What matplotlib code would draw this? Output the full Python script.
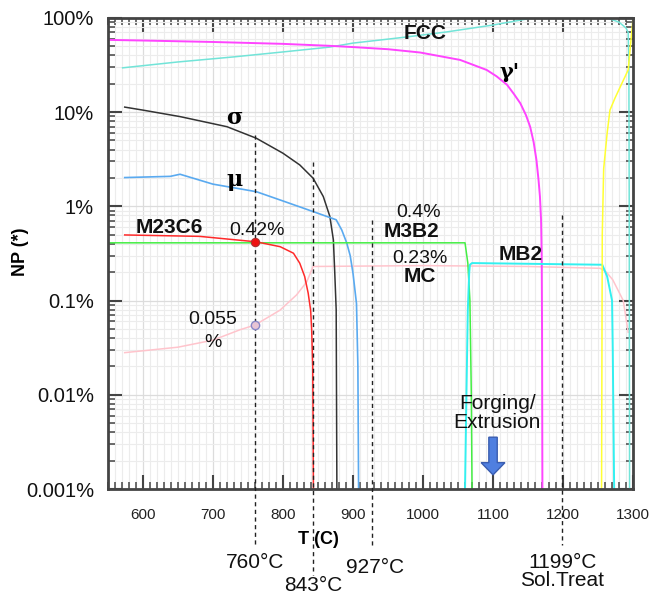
import numpy as np
import matplotlib
matplotlib.use("Agg")
import matplotlib.pyplot as plt
from matplotlib.ticker import FixedLocator, MultipleLocator, LogLocator, NullFormatter
from matplotlib.patches import Polygon

plt.rcParams['font.family'] = ['Liberation Sans', 'DejaVu Sans']

# ---------------- data (T in C, phase amount in %) ----------------
gamma_p_T = [550, 600, 700, 800, 867, 900, 950, 996, 1053, 1091, 1105, 1120, 1130, 1139, 1147, 1153,
             1158, 1162, 1165, 1167, 1168.6, 1169.5, 1170, 1170.5]
gamma_p_v = [58.4, 57.5, 55.5, 53.0, 50.5, 49.0, 46.5, 42.9, 35.8, 28.0, 24.0, 19.5, 15.5, 12.4, 9.3, 7.0,
             4.8, 3.1, 1.9, 1.27, 0.72, 0.3, 0.05, 0.001]

fcc_T = [571, 649, 729, 800, 867, 900, 971, 1034, 1100, 1157, 1263, 1280, 1290, 1293, 1294, 1294.5, 1295]
fcc_v = [29.5, 34.0, 38.5, 43.5, 49.0, 54.0, 62.0, 71.0, 84.0, 100.0, 100.0, 90.0, 78.0, 70.0, 30.0, 1.0, 0.001]

sigma_T = [574, 600, 653, 720, 762, 800, 824, 843, 857.6, 867, 872, 874, 876, 877]
sigma_v = [11.3, 10.5, 8.96, 7.0, 5.28, 3.66, 2.75, 1.99, 1.27, 0.78, 0.44, 0.195, 0.08, 0.001]

mu_T = [574, 639, 653, 700, 762, 800, 843, 876, 884, 891, 896, 900, 905, 907, 908]
mu_v = [2.02, 2.08, 2.19, 1.72, 1.43, 1.14, 0.88, 0.72, 0.56, 0.41, 0.30, 0.195, 0.093, 0.02, 0.001]

m23c6_T = [574, 681, 762, 796, 815, 824, 831, 836, 839.5, 841, 842.5, 843, 843.5]
m23c6_v = [0.497, 0.48, 0.42, 0.373, 0.318, 0.249, 0.18, 0.12, 0.079, 0.049, 0.02, 0.005, 0.001]

m3b2_T = [550, 1060, 1064, 1067, 1069, 1070]
m3b2_v = [0.41, 0.41, 0.25, 0.10, 0.01, 0.001]

mc_T = [574, 650, 700, 738.6, 760, 795.7, 819.5, 834, 843, 1000, 1150, 1253, 1262, 1271, 1286, 1293]
mc_v = [0.028, 0.032, 0.038, 0.049, 0.055, 0.079, 0.115, 0.158, 0.23, 0.235, 0.23, 0.22, 0.2, 0.166, 0.10, 0.046]

mb2_T = [1060, 1062, 1064, 1066, 1067, 1070, 1256, 1263, 1270, 1271, 1272, 1273]
mb2_v = [0.001, 0.01, 0.08, 0.2, 0.24, 0.25, 0.24, 0.18, 0.10, 0.03, 0.005, 0.001]

liquid_T = [1255, 1256, 1258, 1263, 1267, 1274, 1293, 1300]
liquid_v = [0.001, 0.5, 2.5, 6.0, 10.5, 14.0, 28.0, 100.0]

marker_T = [760, 760]
marker_v = [0.42, 0.055]

ref_temps = [760, 843, 927, 1199]
ref_labels = ['760°C', '843°C', '927°C', '1199°C\nSol.Treat']

y_ticks = [0.001, 0.01, 0.1, 1, 10, 100]
y_ticklabels = ['0.001%', '0.01%', '0.1%', '1%', '10%', '100%']
x_ticks = [600, 700, 800, 900, 1000, 1100, 1200, 1300]

# ---------------- figure ----------------
fig = plt.figure(figsize=(6.54, 5.96), dpi=100)
ax = fig.add_axes([0.165, 0.1795, 0.803, 0.7905])
ax.set_yscale('log')
ax.set_xlim(550, 1300)
ax.set_ylim(0.001, 100)

ax.xaxis.set_major_locator(FixedLocator(x_ticks))
ax.xaxis.set_minor_locator(MultipleLocator(10))
ax.yaxis.set_major_locator(FixedLocator(y_ticks))
ax.yaxis.set_minor_locator(LogLocator(base=10, subs=np.arange(2, 10)))
ax.yaxis.set_minor_formatter(NullFormatter())
ax.set_yticklabels(y_ticklabels)
ax.grid(True, which='major', color='#dcdcdc', lw=0.9)
ax.grid(True, which='minor', color='#ececec', lw=0.8)
ax.set_axisbelow(True)

ax.tick_params(which='both', direction='in', top=True, right=True, color='#444444')
ax.tick_params(which='major', length=10, width=1.5)
ax.tick_params(which='minor', length=5, width=1.1)
ax.tick_params(axis='x', labelsize=11, pad=14, labelcolor='#222222')
ax.tick_params(axis='y', labelsize=14.5, pad=10, labelcolor='#111111')
for s in ax.spines.values():
    s.set_color('#444444')
    s.set_linewidth(2)

lw = 1.1
ax.plot(mc_T, mc_v, color='#ffc4cc', lw=lw)
ax.plot(fcc_T, fcc_v, color='#72e4d8', lw=lw)
ax.plot(gamma_p_T, gamma_p_v, color='#ff44ff', lw=lw + 0.3)
ax.plot(sigma_T, sigma_v, color='#333333', lw=lw)
ax.plot(mu_T, mu_v, color='#5aaaf0', lw=lw + 0.1)
ax.plot(m3b2_T, m3b2_v, color='#44ee44', lw=lw)
ax.plot(m23c6_T, m23c6_v, color='#ff2a2a', lw=lw)
ax.plot(mb2_T, mb2_v, color='#33f0f0', lw=lw + 0.3)
ax.plot(liquid_T, liquid_v, color='#ffff33', lw=lw)

# markers
ax.plot(marker_T[0], marker_v[0], 'o', ms=6, mfc='#ee1111', mec='#aa3333', mew=0.8, zorder=5)
ax.plot(marker_T[1], marker_v[1], 'o', ms=6, mfc='#e8c4d4', mec='#8888c8', mew=1.0, zorder=5)

# reference dashed lines (axes-fraction y spans)
xtr = ax.get_xaxis_transform()
dash_spans = {760: (0.7516, -0.119), 843: (0.694, -0.183), 927: (0.571, -0.125), 1199: (0.582, -0.119)}
for t in ref_temps:
    y0, y1 = dash_spans[t]
    ax.plot([t, t], [y0, y1], transform=xtr, color='#222222', lw=1.0,
            ls=(0, (3, 2.5)), clip_on=False, zorder=4)

label_y = {760: -0.155, 843: -0.204, 927: -0.166, 1199: -0.175}
for t, lab in zip(ref_temps, ref_labels):
    ax.text(t + (5 if t == 927 else 0), label_y[t], lab, transform=xtr, ha='center', va='center',
            fontsize=15, color='#111111', linespacing=0.95)

# axis labels
ax.text(850, -0.108, 'T (C)', transform=xtr, ha='center', va='center',
        fontsize=13, fontweight='bold')
fig.text(0.032, 0.577, 'NP (*)', rotation=90, ha='center', va='center',
         fontsize=13, fontweight='bold')

# phase labels
bold = dict(fontsize=15, fontweight='bold', ha='center', va='center', color='#111111')
norm = dict(fontsize=14, ha='center', va='center', color='#111111')
ax.text(1003, 69, 'FCC', **bold)
ax.text(1124, 26.7, "γ'", fontsize=15, fontweight='bold', ha='center', va='center',
        family=['DejaVu Serif'])
ax.text(731, 8.7, 'σ', fontsize=16, fontweight='bold', ha='center', va='center', family=['DejaVu Serif'])
ax.text(731, 1.9, 'μ', fontsize=16, fontweight='bold', ha='center', va='center', family=['DejaVu Serif'])
ax.text(637, 0.59, 'M23C6', **bold)
ax.text(763, 0.56, '0.42%', **norm)
ax.text(994, 0.87, '0.4%', **norm)
ax.text(983, 0.54, 'M3B2', **bold)
ax.text(996, 0.28, '0.23%', **norm)
ax.text(996, 0.178, 'MC', **bold)
ax.text(1139, 0.305, 'MB2', **bold)
ax.text(700, 0.0622, '0.055', **norm)
ax.text(700, 0.0355, '%', **norm)
ax.text(1106, 0.0064, 'Forging/\nExtrusion', fontsize=15, ha='center', va='center',
        color='#111111', linespacing=0.95)

# down arrow at 1100
arrow = Polygon([(1094, 0.110), (1106, 0.110), (1106, 0.056), (1117, 0.056),
                 (1100, 0.030), (1083, 0.056), (1094, 0.056)],
                closed=True, transform=xtr, facecolor='#4f7fe0', edgecolor='#3a5db0',
                lw=1.0, zorder=5)
ax.add_patch(arrow)

fig.savefig('out.png', dpi=100)
